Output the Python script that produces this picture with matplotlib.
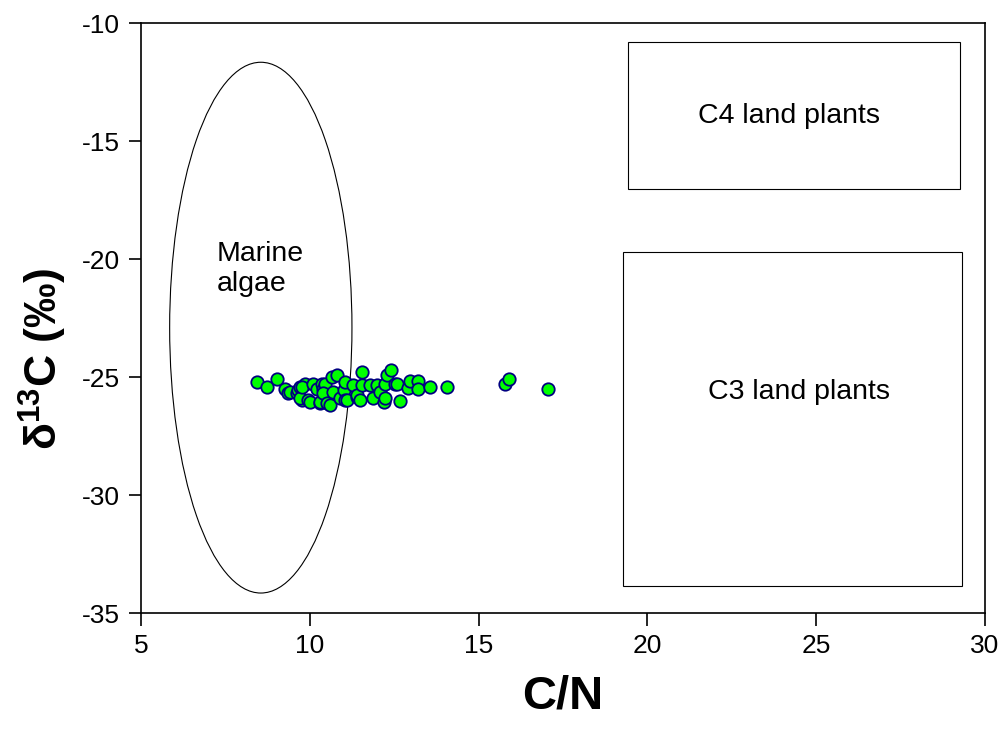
import matplotlib.pyplot as plt
from matplotlib.patches import Ellipse, Rectangle

plt.rcParams['font.family'] = ['Liberation Sans', 'DejaVu Sans']
plt.rcParams['mathtext.fontset'] = 'custom'
plt.rcParams['mathtext.rm'] = 'Liberation Sans'
plt.rcParams['mathtext.bf'] = 'Liberation Sans:bold'
plt.rcParams['mathtext.it'] = 'Liberation Sans:italic'
plt.rcParams['axes.unicode_minus'] = False

# C/N ratio and d13C of the samples
cn = [8.43, 8.74, 9.02, 9.27, 9.37, 9.42, 9.61, 9.66, 9.71, 9.76, 9.86, 9.71,
      9.76, 9.96, 10.01, 10.1, 10.2, 10.29, 10.31, 10.35, 10.40, 10.45, 10.40,
      10.50, 10.60, 10.65, 10.70, 10.80, 10.90, 11.0, 11.05, 11.05, 11.09, 11.29,
      11.39, 11.39, 11.49, 11.54, 11.54, 11.79, 11.88, 11.99, 12.09, 12.2, 12.23,
      12.23, 12.28, 12.42, 12.52, 12.58, 12.67, 12.92, 12.97, 13.22, 13.22,
      13.56, 14.06, 15.79, 15.89, 17.07]
d13c = [-25.20, -25.41, -25.08, -25.48, -25.69, -25.62, -25.65, -25.55, -25.41,
        -25.95, -25.27, -25.90, -25.41, -25.97, -26.05, -25.27, -25.48, -26.11,
        -26.05, -25.27, -25.48, -25.27, -25.69, -26.11, -26.16, -24.99, -25.62,
        -24.92, -25.90, -25.55, -25.20, -25.97, -25.97, -25.34, -25.83, -25.76,
        -25.97, -24.77, -25.34, -25.34, -25.90, -25.34, -25.62, -26.05, -25.27,
        -25.90, -24.92, -24.68, -25.31, -25.27, -26.00, -25.46, -25.18, -25.17,
        -25.52, -25.41, -25.41, -25.27, -25.08, -25.52]

fig = plt.figure(figsize=(10.04, 7.29), dpi=100)
ax = fig.add_axes([0.1404, 0.159, 0.8406, 0.809])

# source end-member fields
ax.add_patch(Ellipse((8.55, -22.9), 5.4, 22.5, fill=False, ec='black', lw=0.8))
ax.add_patch(Rectangle((19.43, -17.03), 9.84, 6.23, fill=False, ec='black', lw=0.8))
ax.add_patch(Rectangle((19.29, -33.86), 10.04, 14.16, fill=False, ec='black', lw=0.8))

ax.text(7.25, -20.4, 'Marine\nalgae', fontsize=20.5, ha='left', va='center', linespacing=1.2)
ax.text(24.2, -13.94, 'C4 land plants', fontsize=20.5, ha='center', va='center')
ax.text(24.5, -25.64, 'C3 land plants', fontsize=20.5, ha='center', va='center')

ax.scatter(cn, d13c, s=80, c='#00ff00', edgecolors='#000080', linewidths=1.3, zorder=3)

ax.set_xlim(5, 30)
ax.set_ylim(-35, -10)
ax.set_xticks([5, 10, 15, 20, 25, 30])
ax.set_yticks([-35, -30, -25, -20, -15, -10])
ax.tick_params(direction='out', length=9, width=1.2, labelsize=19, pad=6)
for side in ax.spines.values():
    side.set_linewidth(1.2)

ax.set_xlabel('C/N', fontsize=34, fontweight='bold', labelpad=12)
ax.set_ylabel('δ$^{\\mathbf{13}}$C (‰)', fontsize=32, fontweight='bold')
ax.yaxis.set_label_coords(-0.085, 0.43)

fig.savefig('out.png', dpi=100)
